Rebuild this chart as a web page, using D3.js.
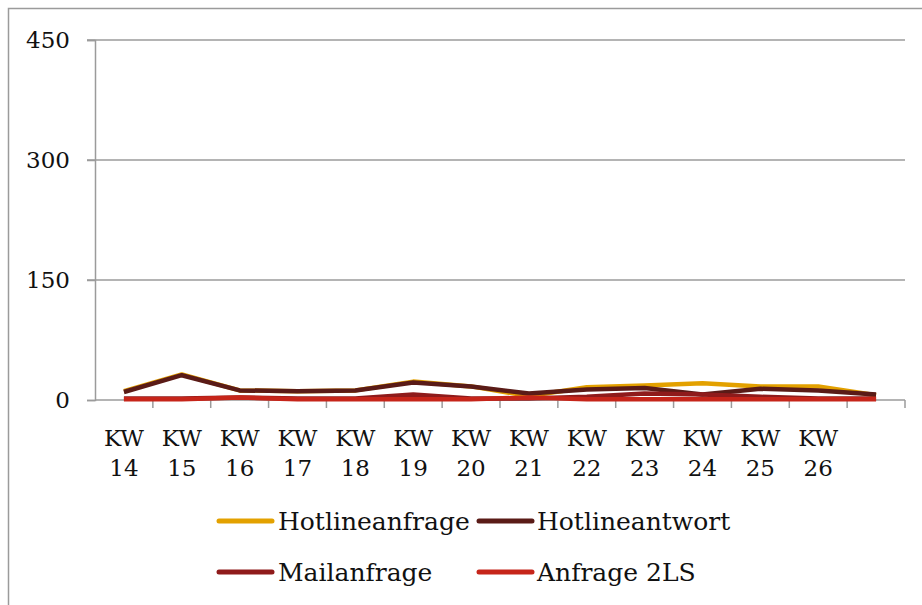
<!DOCTYPE html>
<html>
<head>
<meta charset="utf-8">
<script src="https://cdn.jsdelivr.net/npm/d3@7"></script>
<style>
  body { margin: 0; background: #fff; }
  svg text { font-family: "DejaVu Serif", "Liberation Serif", serif; fill: #111; }
</style>
</head>
<body>
<div id="chart"></div>
<script>
// Chart data
var weeks = ["KW 14", "KW 15", "KW 16", "KW 17", "KW 18", "KW 19", "KW 20",
             "KW 21", "KW 22", "KW 23", "KW 24", "KW 25", "KW 26", ""];
var hotlineanfrage = [11, 32, 12, 11, 12, 23, 17, 5, 16, 18, 21, 17, 17, 6];
var hotlineantwort = [10, 31, 12, 11, 12, 22, 17, 8, 13, 15, 7, 14, 12, 7];
var mailanfrage    = [2, 2, 3, 2, 2, 7, 2, 2, 4, 8, 7, 4, 2, 2];
var anfrage2LS     = [1, 1, 3, 1, 1, 1, 1, 3, 1, 1, 1, 1, 1, 1];
var yTicks = [0, 150, 300, 450];

var series = [
    { name: "Hotlineanfrage", values: hotlineanfrage, color: "#E3A100" },
    { name: "Hotlineantwort", values: hotlineantwort, color: "#5A1B17" },
    { name: "Mailanfrage",    values: mailanfrage,    color: "#8F1B1B" },
    { name: "Anfrage 2LS",    values: anfrage2LS,     color: "#C6251A" }
];

var W = 922, H = 605;
var axisColor = "#9B9B9B";

var svg = d3.select("#chart").append("svg")
    .attr("width", W)
    .attr("height", H);

// outer frame
svg.append("rect")
    .attr("x", 8.5).attr("y", 8.5)
    .attr("width", W + 20).attr("height", H + 20)
    .attr("fill", "none")
    .attr("stroke", axisColor)
    .attr("stroke-width", 1.5);

// scales
var x = d3.scaleBand()
    .domain(weeks.map(function (d, i) { return i; }))
    .range([95, 905]);

var y = d3.scaleLinear()
    .domain([0, 450])
    .range([400, 40]);

// gridlines
svg.append("g")
    .selectAll("line")
    .data(yTicks.filter(function (d) { return d > 0; }))
    .enter().append("line")
    .attr("x1", 87).attr("x2", 905)
    .attr("y1", function (d) { return y(d); })
    .attr("y2", function (d) { return y(d); })
    .attr("stroke", axisColor)
    .attr("stroke-width", 1.5);

// y axis
var yAxis = svg.append("g")
    .attr("transform", "translate(95,0)")
    .call(d3.axisLeft(y).tickValues(yTicks).tickSize(8).tickPadding(17));
yAxis.select(".domain").attr("stroke", axisColor).attr("stroke-width", 1.5);
yAxis.selectAll(".tick line").attr("stroke", axisColor).attr("stroke-width", 1.5);
yAxis.selectAll(".tick text")
    .attr("font-size", "23px")
    .attr("font-family", "DejaVu Serif")
    .attr("fill", "#111");

// x axis line and tick marks at category boundaries
var xg = svg.append("g");
xg.append("line")
    .attr("x1", x.range()[0]).attr("x2", x.range()[1])
    .attr("y1", y(0)).attr("y2", y(0))
    .attr("stroke", axisColor).attr("stroke-width", 1.5);
var bounds = x.domain().map(function (d) { return x(d); }).concat([x.range()[1]]);
xg.selectAll(".xt")
    .data(bounds.slice(1))
    .enter().append("line")
    .attr("class", "xt")
    .attr("x1", function (d) { return d; })
    .attr("x2", function (d) { return d; })
    .attr("y1", y(0)).attr("y2", y(0) + 8)
    .attr("stroke", axisColor).attr("stroke-width", 1.5);

// x labels (two lines each)
var xl = xg.selectAll(".xl")
    .data(weeks)
    .enter().append("text")
    .attr("class", "xl")
    .attr("text-anchor", "middle")
    .attr("font-size", "23px")
    .attr("x", function (d, i) { return x(i) + x.bandwidth() / 2; })
    .attr("y", 446);
xl.append("tspan")
    .attr("x", function (d, i) { return x(i) + x.bandwidth() / 2; })
    .text(function (d) { return d.split(" ")[0] || ""; });
xl.append("tspan")
    .attr("x", function (d, i) { return x(i) + x.bandwidth() / 2; })
    .attr("dy", 30)
    .text(function (d) { return d.split(" ")[1] || ""; });

// lines
var line = d3.line()
    .x(function (d, i) { return x(i) + x.bandwidth() / 2; })
    .y(function (d) { return y(d); });

svg.append("g")
    .selectAll("path")
    .data(series)
    .enter().append("path")
    .attr("d", function (s) { return line(s.values); })
    .attr("fill", "none")
    .attr("stroke", function (s) { return s.color; })
    .attr("stroke-width", 4.5)
    .attr("stroke-linejoin", "round");

// legend
var legendPos = [
    { lx: 219, tx: 278, ty: 521 },
    { lx: 479, tx: 537, ty: 521 },
    { lx: 219, tx: 278, ty: 572 },
    { lx: 479, tx: 537, ty: 572 }
];
var lg = svg.append("g")
    .selectAll("g")
    .data(series)
    .enter().append("g");
lg.append("line")
    .attr("x1", function (s, i) { return legendPos[i].lx; })
    .attr("x2", function (s, i) { return legendPos[i].lx + 53; })
    .attr("y1", function (s, i) { return legendPos[i].ty; })
    .attr("y2", function (s, i) { return legendPos[i].ty; })
    .attr("stroke", function (s) { return s.color; })
    .attr("stroke-width", 5)
    .attr("stroke-linecap", "round");
lg.append("text")
    .attr("x", function (s, i) { return legendPos[i].tx; })
    .attr("y", function (s, i) { return legendPos[i].ty; })
    .attr("dy", "0.35em")
    .attr("font-size", "25px")
    .text(function (s) { return s.name; });
</script>
</body>
</html>
